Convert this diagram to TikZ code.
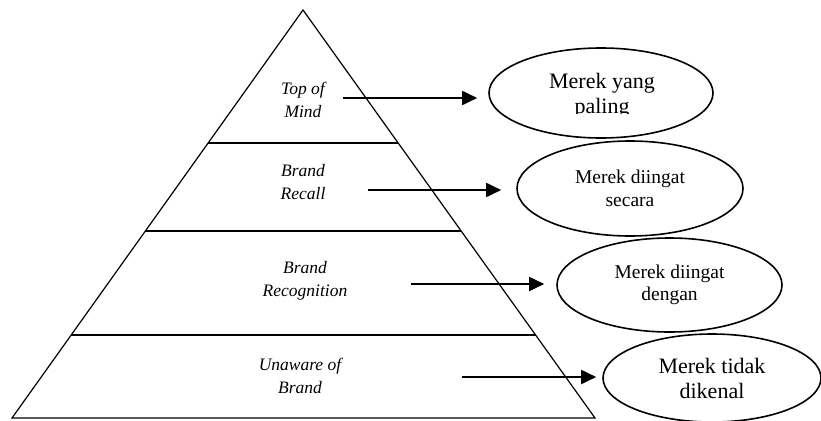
\documentclass[tikz,border=0pt]{standalone}
\usepackage{fontspec}
\setmainfont{Liberation Serif}
\usetikzlibrary{arrows.meta,shapes.geometric}

\begin{document}
\begin{tikzpicture}[x=1pt,y=-1pt]

        \useasboundingbox (0,0) rectangle (821,420);

        % pyramid and its levels
        \begin{scope}[line width=1.2pt]
          \coordinate (top) at (303,10);
          \coordinate (bl)  at (12,418);
          \coordinate (br)  at (595,418);
          \draw (top) -- (br) -- (bl) -- cycle;
          \draw (208,143) -- (398,143);
          \draw (146,231) -- (461,231);
          \draw (71,335)  -- (536,335);
        \end{scope}

        \begin{scope}[every node/.style={align=center,font=\fontsize{17.5}{23}\selectfont\itshape}]
          \node (1) at (303,100) {Top of\\Mind};
          \node (2) at (303,182) {Brand\\Recall};
          \node (3) at (305,281) {Brand\\Recognition};
          \node (4) at (300,376) {Unaware of\\Brand};
        \end{scope}

        \begin{scope}[every node/.style={ellipse,draw,line width=1.6pt,inner sep=0pt,align=center}]
          \node[minimum width=224pt,minimum height=90pt] (5) at (601,93) {};
          \node[minimum width=226pt,minimum height=95pt,font=\fontsize{19.5}{23}\selectfont] (6) at (630,188.5) {Merek diingat\\secara};
          \node[minimum width=225pt,minimum height=94pt,font=\fontsize{19.5}{22}\selectfont] (7) at (669.5,285) {Merek diingat\\dengan};
          \node[minimum width=218pt,minimum height=88pt,font=\fontsize{22}{25}\selectfont] (8) at (712,378) {Merek tidak\\dikenal};
        \end{scope}

        % text of the top ellipse is cut at the bottom
        \begin{scope}
          \clip (480,40) rectangle (720,113.5);
          \node[align=center,font=\fontsize{22}{25}\selectfont] (9) at (602,95.5) {Merek yang\\paling};
        \end{scope}

        \begin{scope}[every path/.style={draw,line width=1.8pt,-{Triangle[length=15pt,width=14pt]}}]
          \coordinate (a1) at (343,98);
          \coordinate (a2) at (368,190);
          \coordinate (a3) at (411,284);
          \coordinate (a4) at (462,377);
          \path[shorten >=11pt] (a1) -- (a1 -| 5.west);
          \path[shorten >=15pt] (a2) -- (a2 -| 6.west);
          \path[shorten >=12pt] (a3) -- (a3 -| 7.west);
          \path[shorten >=6pt]  (a4) -- (a4 -| 8.west);
        \end{scope}

      \end{tikzpicture}
\end{document}
